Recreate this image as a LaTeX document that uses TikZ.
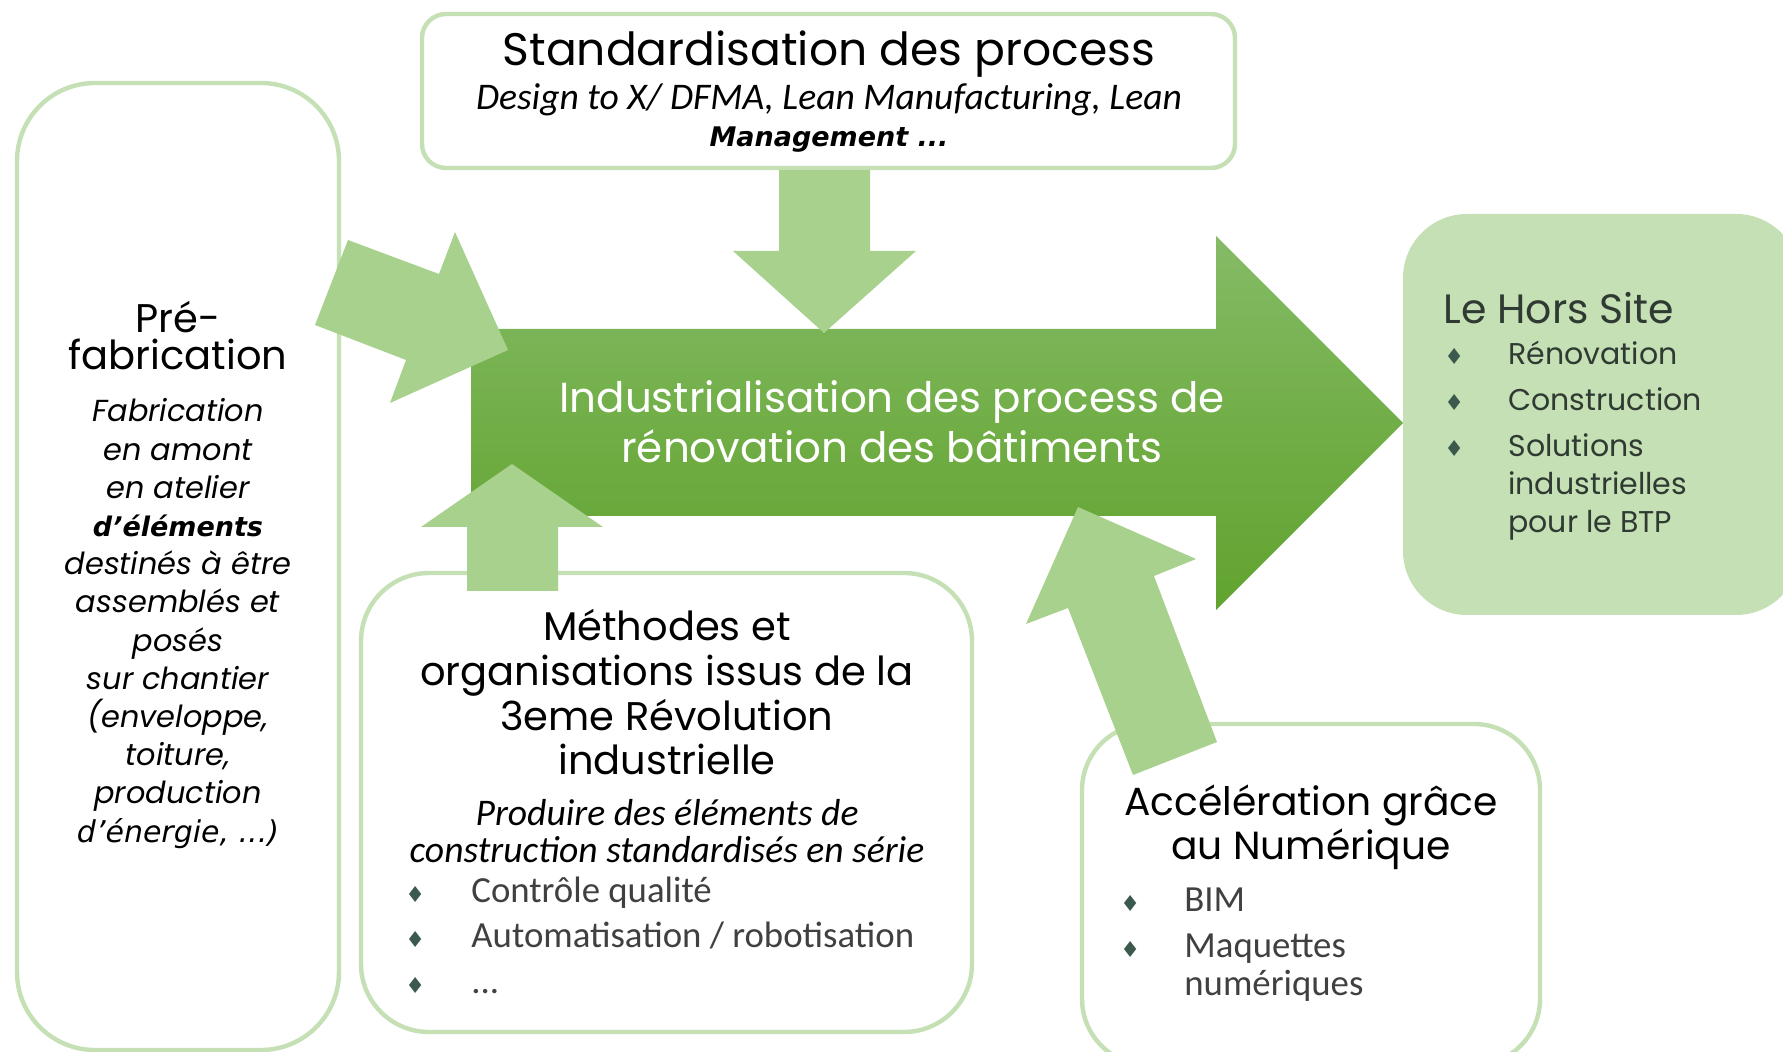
\documentclass[tikz,border=0pt]{standalone}
\usepackage{fontspec}
\setmainfont{Poppins}
\newfontfamily\narrowfont{Carlito}
\newfontfamily\verdfont{DejaVu Sans}
\usetikzlibrary{positioning}
\definecolor{frameline}{HTML}{C5E0B4}
\definecolor{softgreen}{HTML}{C5E0B4}
\definecolor{lightarrow}{HTML}{A9D18E}
\definecolor{maintop}{HTML}{85BB67}
\definecolor{mainmid}{HTML}{71AE47}
\definecolor{mainbot}{HTML}{61A330}
\definecolor{diamondc}{HTML}{3B5A4D}
\definecolor{listtext}{HTML}{404040}
\definecolor{sidetext}{HTML}{2F3A33}
\newcommand{\puce}[1]{\makebox[#1][l]{\verdfont\fontsize{11}{11}\selectfont\color{diamondc}\char"2666}}
\tikzset{
  boxframe/.style={draw=frameline, line width=2.2pt, fill=white, inner sep=0pt},
  sidebox/.style={fill=softgreen, draw=none, inner sep=0pt},
  lightarr/.style={fill=lightarrow, draw=none},
  bigarr/.style={top color=maintop, bottom color=mainbot, middle color=mainmid, draw=none},
  headtxt/.style={anchor=base, align=center, inner sep=0pt, text=black,
    font=\fontsize{20}{18.5}\selectfont},
  subtxt/.style={anchor=base, align=center, inner sep=0pt, text=black,
    font=\narrowfont\itshape\fontsize{18.8}{18.5}\selectfont},
  bodyit/.style={anchor=base, align=center, inner sep=0pt, text=black,
    font=\itshape\fontsize{15.2}{19.1}\selectfont},
  listtxt/.style={anchor=base west, align=left, inner sep=0pt, text=listtext,
    font=\narrowfont\fontsize{18.4}{19}\selectfont},
  sidelist/.style={anchor=base west, align=left, inner sep=0pt, text=sidetext,
    font=\fontsize{15}{19}\selectfont},
  maintxt/.style={anchor=base, align=center, inner sep=0pt, text=white,
    font=\fontsize{21}{25}\selectfont}
}

\begin{document}
\begin{tikzpicture}[x=0.5pt, y=-0.5pt]
  \useasboundingbox (0,0) rectangle (1783,1052);
  % cadres
  \node[boxframe, rounded corners=39pt, minimum width=161pt, minimum height=483.5pt] (prebox) at (178,566.5) {};
  \node[boxframe, rounded corners=12pt, minimum width=406.5pt, minimum height=77pt] (stdbox) at (828.5,91) {};
  \node[boxframe, rounded corners=34pt, minimum width=305.5pt, minimum height=229.5pt] (methbox) at (666.5,802.5) {};
  \node[boxframe, rounded corners=33pt, minimum width=229pt, minimum height=170.5pt] (accbox) at (1311,894.5) {};
  \node[sidebox, rounded corners=32pt, minimum width=198.5pt, minimum height=200.5pt] (hsbox) at (1601.5,414.5) {};
  % grande fleche
  \path[bigarr] (471,329) -- (1216,329) -- (1216,236) -- (1403,423) -- (1216,610) -- (1216,516) -- (471,516) -- cycle;
  % fleches claires
  \fill[lightarr] (348,240) -- (439,274) -- (455,232) -- (508,350) -- (390,403) -- (406,360) -- (315,325) -- cycle;
  \fill[lightarr] (779,170) -- (870,170) -- (870,251) -- (916,251) -- (824,333) -- (733,251) -- (779,251) -- cycle;
  \fill[lightarr] (467,591) -- (558,591) -- (558,527) -- (603,527) -- (512,464) -- (421,527) -- (467,527) -- cycle;
  \fill[lightarr] (1133,775) -- (1217,742) -- (1154,576) -- (1196,559) -- (1078,507) -- (1026,624) -- (1068,608) -- cycle;
  % textes (base = derniere ligne)
  \node[maintxt] (indus) at (892,463) {Industrialisation des process de\\rénovation des bâtiments};
  \node[headtxt, font=\fontsize{22.8}{18.5}\selectfont] (stdtitle) at (829,66) {Standardisation des process};
  \node[subtxt] (stdsub) at (829,147) {Design to X/ DFMA, Lean Manufacturing, Lean\\{\verdfont\bfseries\itshape\fontsize{13.5}{18.5}\selectfont Management ...}};
  \node[headtxt] (pretitle) at (178,370) {Pré-\\fabrication};
  \node[bodyit] (prebody) at (178,842) {Fabrication\\en amont\\en atelier\\{\verdfont\bfseries\itshape\fontsize{13.5}{19.1}\selectfont d’éléments}\\destinés à être\\assemblés et\\posés\\sur chantier\\(enveloppe,\\toiture,\\production\\{\verdfont\itshape\fontsize{15}{19.1}\selectfont d’énergie, ...)}};
  \node[headtxt, font=\fontsize{20}{22.35}\selectfont] (methtitle) at (667,775) {Méthodes et\\organisations issus de la\\3eme Révolution\\industrielle};
  \node[subtxt] (methsub) at (667,863) {Produire des éléments de\\construction standardisés en série};
  \node[listtxt, font=\narrowfont\fontsize{18.4}{22.75}\selectfont] (methlist) at (405,993) {\puce{33pt}Contrôle qualité\\\puce{33pt}Automatisation / robotisation\\\puce{33pt}...};
  \node[headtxt, font=\fontsize{19.6}{22}\selectfont] (acctitle) at (1311,859) {Accélération grâce\\au Numérique};
  \node[listtxt] (acclist) at (1120,995) {\puce{32pt}BIM\\[4pt]\puce{32pt}Maquettes\\\hspace*{32pt}numériques};
  \node[headtxt, anchor=base west, text=sidetext, font=\fontsize{20.5}{19}\selectfont] (hstitle) at (1443,324) {Le Hors Site};
  \node[sidelist] (hslist) at (1444,533) {\puce{32pt}Rénovation\\[4pt]\puce{32pt}Construction\\[4pt]\puce{32pt}Solutions\\\hspace*{32pt}industrielles\\\hspace*{32pt}pour le BTP};
\end{tikzpicture}
\end{document}
